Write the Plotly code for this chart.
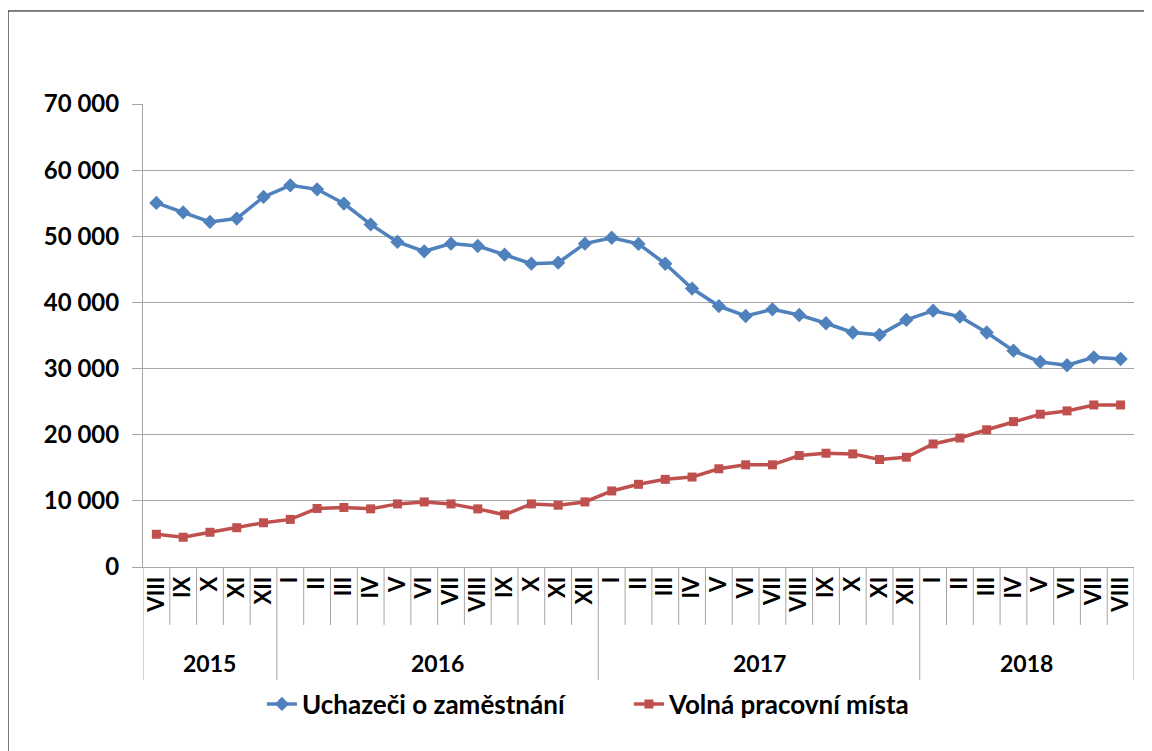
import plotly.graph_objects as go

# ---------------- data ----------------
years = ["2015", "2016", "2017", "2018"]
months_per_year = [
    ["VIII", "IX", "X", "XI", "XII"],
    ["I", "II", "III", "IV", "V", "VI", "VII", "VIII", "IX", "X", "XI", "XII"],
    ["I", "II", "III", "IV", "V", "VI", "VII", "VIII", "IX", "X", "XI", "XII"],
    ["I", "II", "III", "IV", "V", "VI", "VII", "VIII"],
]
uchazeci = [55050, 53600, 52170, 52680, 55950,
            57700, 57100, 54950, 51800, 49150, 47730, 48890, 48530, 47220, 45860, 46010, 48890,
            49780, 48850, 45850, 42100, 39450, 37950, 38950, 38100, 36850, 35450, 35100, 37350,
            38750, 37850, 35450, 32700, 31000, 30500, 31700, 31450]
volna = [4950, 4500, 5250, 5940, 6690,
         7200, 8850, 9000, 8790, 9540, 9840, 9540, 8790, 7890, 9540, 9340, 9840,
         11500, 12500, 13250, 13600, 14850, 15450, 15450, 16850, 17200, 17100, 16250, 16600,
         18600, 19500, 20750, 21980, 23100, 23600, 24500, 24500]
y_ticks = [0, 10000, 20000, 30000, 40000, 50000, 60000, 70000]
y_ticktext = ["0", "10 000", "20 000", "30 000", "40 000", "50 000", "60 000", "70 000"]
series_names = ["Uchazeči o zaměstnání", "Volná pracovní místa"]

# ---------------- build ----------------
month_labels = [m for ms in months_per_year for m in ms]
n = len(month_labels)
xs = list(range(n))

BLUE = "#4F81BD"
RED = "#C0504D"
GRID = "#A6A6A6"
FONT = "Lato"

fig = go.Figure()
fig.add_trace(go.Scatter(
    x=xs, y=uchazeci, name=series_names[0], mode="lines+markers",
    line=dict(color=BLUE, width=3.5),
    marker=dict(symbol="diamond", size=11, color=BLUE),
))
fig.add_trace(go.Scatter(
    x=xs, y=volna, name=series_names[1], mode="lines+markers",
    line=dict(color=RED, width=3.5),
    marker=dict(symbol="square", size=9, color=RED),
))

shapes = []
annotations = []
short_bottom = -0.125
long_bottom = -0.244
bounds = [-0.5]
for ms in months_per_year:
    bounds.append(bounds[-1] + len(ms))
for i in range(n + 1):
    xb = i - 0.5
    is_year = any(abs(xb - b) < 1e-9 for b in bounds)
    shapes.append(dict(type="line", xref="x", yref="paper",
                       x0=xb, x1=xb, y0=0, y1=long_bottom if is_year else short_bottom,
                       line=dict(color=GRID, width=1)))
for k, yr in enumerate(years):
    cx = (bounds[k] + bounds[k + 1]) / 2
    annotations.append(dict(x=cx, y=-0.207, xref="x", yref="paper", text=yr,
                            showarrow=False, yanchor="middle",
                            font=dict(family=FONT, size=23, color="black", weight="bold")))
# outer frame
shapes.append(dict(type="rect", xref="paper", yref="paper",
                   x0=-0.1362, x1=1.0131, y0=1.2009, y1=-0.43,
                   line=dict(color="black", width=1), fillcolor="rgba(0,0,0,0)", layer="below"))

fig.update_layout(
    width=1144, height=743,
    margin=dict(l=135, r=18, t=96, b=184),
    paper_bgcolor="white", plot_bgcolor="white",
    font=dict(family=FONT, color="black", size=18, weight="bold"),
    showlegend=True,
    legend=dict(orientation="h", x=0.12, xanchor="left", y=-0.296, yanchor="middle",
                font=dict(family=FONT, size=26, color="black", weight="bold"),
                entrywidth=322, entrywidthmode="pixels",
                bgcolor="rgba(0,0,0,0)"),
    shapes=shapes,
    annotations=annotations,
)
fig.update_xaxes(
    range=[-0.5, n - 0.5], tickvals=xs, ticktext=month_labels, tickangle=-90,
    showgrid=False, zeroline=False, showline=True, linecolor=GRID, linewidth=1,
    ticks="", tickfont=dict(family=FONT, size=22, color="black", weight="bold"),
    fixedrange=True,
)
fig.update_yaxes(
    range=[0, 70000], tickvals=y_ticks, ticktext=y_ticktext,
    showgrid=True, gridcolor=GRID, gridwidth=1, zeroline=False,
    showline=True, linecolor=GRID, linewidth=1,
    ticks="outside", ticklen=10, tickcolor=GRID, ticklabelstandoff=8,
    tickfont=dict(family=FONT, size=24, color="black", weight="bold"),
    fixedrange=True,
)

fig.write_html("out.html")
